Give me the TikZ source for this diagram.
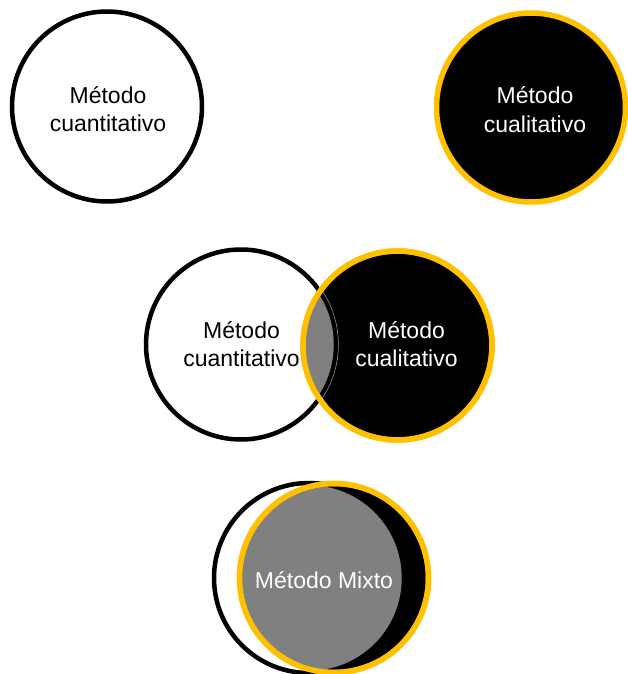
\documentclass[tikz,border=0pt]{standalone}
\usepackage{fontspec}
\setmainfont{Liberation Sans}
\definecolor{gold}{RGB}{255,192,0}
\definecolor{midgray}{RGB}{128,128,128}
\begin{document}
\begin{tikzpicture}[x=1pt,y=-1pt,
  lbl/.style={font=\fontsize{23}{28.4}\selectfont, align=center, inner sep=0pt},
  quanti/.style={circle, draw=black, line width=4.5pt, fill=white, minimum size=190pt, inner sep=0pt},
  quali/.style={circle, draw=gold, line width=5.5pt, fill=black, minimum size=189pt, inner sep=0pt},
  lens/.style={fill=midgray},
  seam/.style={draw=white!55!black, line width=0.6pt},
]
\useasboundingbox (0,0) rectangle (627,674);

% top row
\node[quanti] (q1) at (107,106.5) {};
\node[quali] (c1) at (531,107.5) {};
\node[lbl, text=black] (t1) at (108,109) {Método\\cuantitativo};
\node[lbl, text=white] (t2) at (535,109.5) {Método\\cualitativo};

% middle
\node[quanti] (q2) at (241,344.5) {};
\node[quali] (c2) at (397.5,345.5) {};
\begin{scope}
  \clip (c2.center) circle (94.5);
  \fill[lens] (q2.center) circle (92.75);
  \draw[seam] (q2.center) circle (97.4);
\end{scope}
\draw[gold, line width=5.5pt] (c2.center) circle (94.5);
\node[lbl, text=black] (t3) at (241.5,344) {Método\\cuantitativo};
\node[lbl, text=white] (t4) at (406.5,344) {Método\\cualitativo};

% bottom
\node[quanti] (q3) at (309,578) {};
\node[quali] (c3) at (334,578) {};
\begin{scope}
  \clip (c3.center) circle (94.5);
  \fill[lens] (q3.center) circle (92.75);
\end{scope}
\draw[gold, line width=5.5pt] (c3.center) circle (94.5);
\node[lbl, text=white, anchor=base] (t5) at (324,588) {Método Mixto};
\end{tikzpicture}
\end{document}
